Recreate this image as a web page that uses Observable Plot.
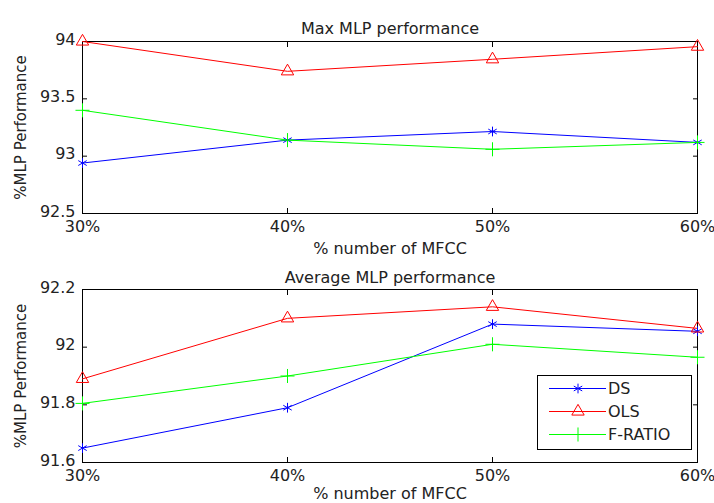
<!DOCTYPE html>
<html>
<head>
<meta charset="utf-8">
<script src="https://cdn.jsdelivr.net/npm/d3@7"></script>
<script src="https://cdn.jsdelivr.net/npm/@observablehq/plot@0.6"></script>
<style>
  html, body { margin: 0; padding: 0; background: #fff; }
  #wrap { position: relative; width: 714px; height: 503px; overflow: hidden; font-family: "DejaVu Sans", sans-serif; }
  #wrap svg { display: block; }
  #legend { position: absolute; left: 537px; top: 375px; }
</style>
</head>
<body>
<div id="wrap"></div>
<script>
// ---- data ----
const mfccPercent = [30, 40, 50, 60];
const seriesNames = ["DS", "OLS", "F-RATIO"];
const seriesColors = ["#0000ff", "#ff0000", "#00ff00"];
const seriesSymbols = ["asterisk", "triangle", "plus"];

const maxDS = [92.94, 93.14, 93.215, 93.12];
const maxOLS = [94.0, 93.74, 93.845, 93.955];
const maxFRATIO = [93.4, 93.14, 93.06, 93.12];

const avgDS = [91.65, 91.79, 92.08, 92.055];
const avgOLS = [91.89, 92.10, 92.14, 92.065];
const avgFRATIO = [91.805, 91.90, 92.01, 91.965];

const xTicks = [30, 40, 50, 60];
const maxYTicks = [92.5, 93, 93.5, 94];
const avgYTicks = [91.6, 91.8, 92, 92.2];

const titles = ["Max MLP performance", "Average MLP performance"];
const xLabel = "% number of MFCC";
const yLabel = "%MLP Performance";

// ---- drawing ----
const FONT = "DejaVu Sans";
function rowsOf(seriesValues) {
  const rows = [];
  seriesNames.forEach((s, i) => mfccPercent.forEach((x, j) => rows.push({series: s, x, y: seriesValues[i][j]})));
  return rows;
}

function panel({title, values, yDomain, yTicks, height, marginTop, marginBottom, titleDy, xLabelDy}) {
  const rows = rowsOf(values);
  return Plot.plot({
    width: 714, height, marginLeft: 82, marginRight: 17, marginTop, marginBottom,
    style: {fontFamily: FONT, fontSize: "16px", color: "#000", background: "white", overflow: "visible"},
    x: {domain: [30, 60]},
    y: {domain: yDomain},
    color: {domain: seriesNames, range: seriesColors},
    symbol: {domain: seriesNames, range: seriesSymbols},
    marks: [
      Plot.axisX({anchor: "bottom", ticks: xTicks, tickFormat: d => d + "%", tickSize: -5, tickPadding: 12, label: null, fill: "#222"}),
      Plot.axisX({anchor: "top", ticks: xTicks, tickSize: -5, label: null, fill: "none", tickFormat: () => ""}),
      Plot.axisY({anchor: "left", ticks: yTicks, tickSize: -5, label: null, fill: "none", tickFormat: () => ""}),
      Plot.axisY({anchor: "left", ticks: yTicks, tickSize: 0, tickPadding: 7, dy: -2, label: null, fill: "#222", tickFormat: d => String(d)}),
      Plot.axisY({anchor: "right", ticks: yTicks, tickSize: -5, label: null, fill: "none", tickFormat: () => ""}),
      Plot.frame({stroke: "#000"}),
      Plot.line(rows, {x: "x", y: "y", z: "series", stroke: "series", strokeWidth: 1}),
      Plot.dot(rows, {x: "x", y: "y", stroke: "series", symbol: "series", fill: "none", r: 4.6, strokeWidth: 1}),
      Plot.text([title], {frameAnchor: "top", dy: titleDy, text: d => d, fill: "#222", style: "letter-spacing:0.3px"}),
      Plot.text([xLabel], {frameAnchor: "bottom", dy: xLabelDy, text: d => d, fill: "#222"}),
      Plot.text([yLabel], {frameAnchor: "left", textAnchor: "middle", dx: -61, rotate: -90, text: d => d, fill: "#222", fontSize: 15})
    ]
  });
}

const wrap = document.getElementById("wrap");
wrap.appendChild(panel({
  title: titles[0], values: [maxDS, maxOLS, maxFRATIO],
  yDomain: [92.5, 94], yTicks: maxYTicks,
  height: 262, marginTop: 41, marginBottom: 49, titleDy: -19, xLabelDy: 40
}));
wrap.appendChild(panel({
  title: titles[1], values: [avgDS, avgOLS, avgFRATIO],
  yDomain: [91.6, 92.2], yTicks: avgYTicks,
  height: 241, marginTop: 27, marginBottom: 41, titleDy: -17.5, xLabelDy: 36
}));

// legend
const lg = d3.select(wrap).append("svg").attr("id", "legend")
  .attr("width", 155).attr("height", 75)
  .style("font-family", FONT).style("font-size", "16px");
lg.append("rect").attr("x", 0.5).attr("y", 0.5).attr("width", 154).attr("height", 74)
  .attr("fill", "white").attr("stroke", "#000");
const symMap = {asterisk: d3.symbolAsterisk, triangle: d3.symbolTriangle, plus: d3.symbolPlus};
seriesNames.forEach((name, i) => {
  const cy = 13.5 + i * 23;
  const g = lg.append("g");
  g.append("line").attr("x1", 12).attr("x2", 69).attr("y1", cy).attr("y2", cy)
    .attr("stroke", seriesColors[i]).attr("stroke-width", 1);
  g.append("path").attr("transform", `translate(41,${cy})`)
    .attr("d", d3.symbol(symMap[seriesSymbols[i]], Math.PI * 4.6 * 4.6)())
    .attr("fill", "none").attr("stroke", seriesColors[i]);
  g.append("text").attr("x", 71).attr("y", cy).attr("dy", "0.35em").attr("fill", "#222").text(name);
});
</script>
</body>
</html>
